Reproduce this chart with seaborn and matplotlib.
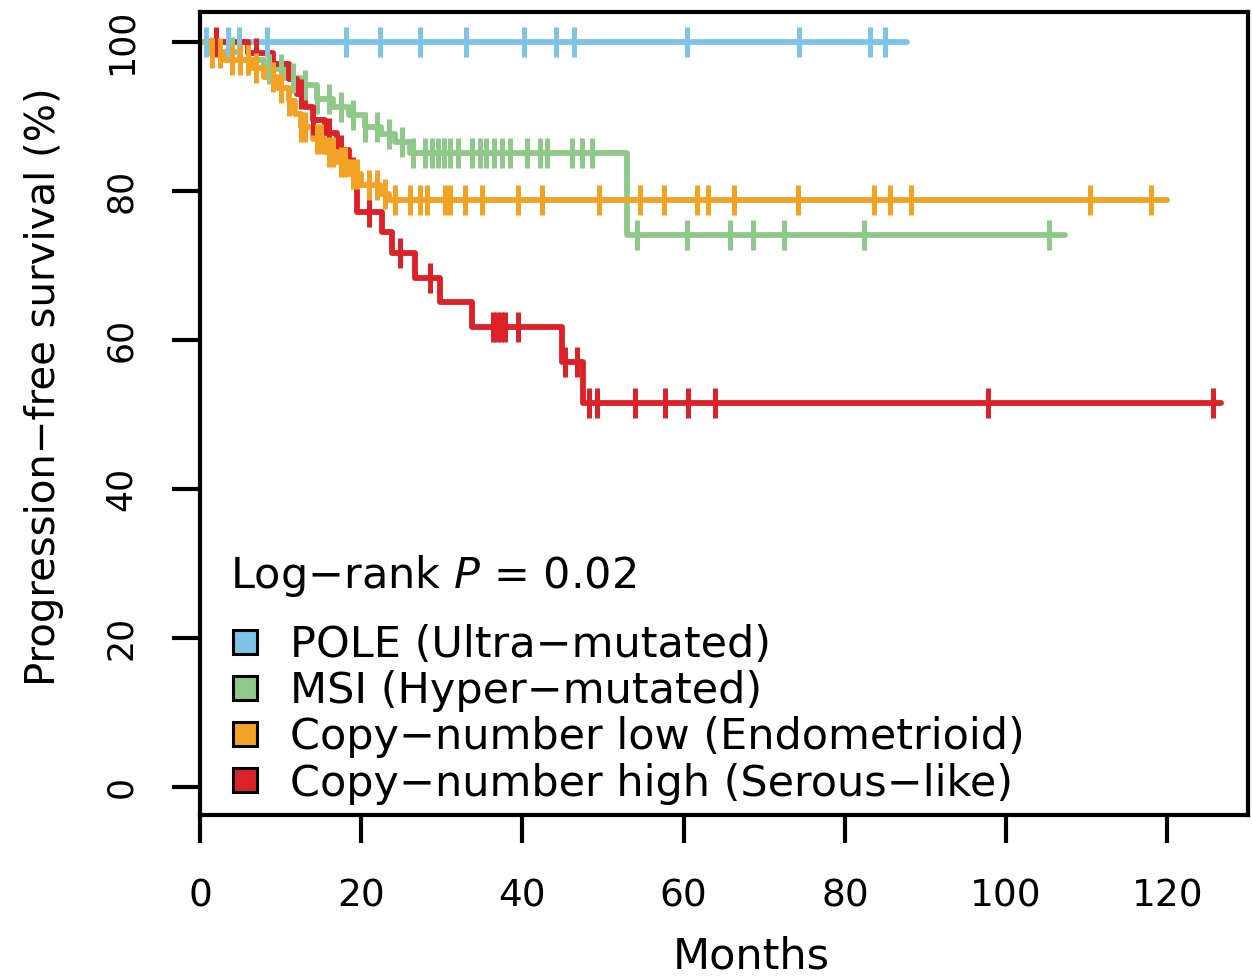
import numpy as np
import pandas as pd
import matplotlib
matplotlib.use("Agg")
import matplotlib.pyplot as plt
import seaborn as sns
from matplotlib.lines import Line2D

# ---------------- data ----------------
group_labels = ["POLE (Ultra−mutated)", "MSI (Hyper−mutated)",
                "Copy−number low (Endometrioid)", "Copy−number high (Serous−like)"]
group_colors = ["#7ec4e6", "#8fc98a", "#f2a325", "#dc2229"]
pvalue_text = "Log−rank $\\it{P}$ = 0.02"

pole_times = [0]
pole_surv = [100]
pole_end = 87.7
pole_censor = [0.8, 3.5, 4.8, 8.3, 18.1, 22.3, 27.3, 33.0, 40.2, 44.2, 46.4,
               60.4, 74.3, 83.1, 85.0]

msi_times = [0, 1.5, 5, 8, 10.5, 12.5, 14.5, 16.5, 18.5, 20.5, 22.5, 24.2, 26, 53.0]
msi_surv = [100, 98.6, 97.5, 96.3, 95.2, 94.2, 92.3, 91.2, 90.2, 88.5, 87.6, 86.6, 85.1, 74.1]
msi_end = 107.3
msi_censor = [1.5, 4, 6, 8.5, 10, 11.5, 13, 14.5, 16, 17.5, 19, 20.5, 22, 23.5, 25,
              26.4, 27.9, 28.8, 29.5, 30.3, 31.0, 32.0, 33.7, 34.7, 35.5, 36.5,
              37.5, 38.5, 40.6, 42.2, 43.1, 46.2, 47.4, 48.6,
              54.2, 60.4, 65.8, 68.6, 72.5, 82.4, 105.3]

cnl_times = [0, 1, 3, 6.5, 8, 9.5, 11, 11.8, 12.5, 14, 15.5, 17, 18.5, 20, 22.3, 23.5]
cnl_surv = [100, 98.5, 97.5, 96.5, 95.3, 93.8, 92, 90.3, 88.5, 87, 85.2, 83.8, 82.2,
            80.8, 79.6, 78.8]
cnl_end = 120.0
cnl_censor = [1.5, 2.5, 4, 5, 6, 7, 9, 10, 11, 12.5, 13, 14.5, 15, 16, 16.5, 17.5,
              18, 19, 19.5, 21, 22, 23, 24.2, 26.1, 27.3, 28.2, 30.4, 31.0, 32.9,
              35.0, 39.5, 42.4, 49.5, 54.6, 57.6, 61.7, 63.0, 66.3, 74.2, 83.6,
              85.6, 88.2, 110.4, 118.0]

cnh_times = [0, 6, 9, 11, 12, 13, 14, 15.5, 17, 18.5, 19.5, 22.6, 23.8, 26.7, 29.8,
             33.7, 44.9, 47.5]
cnh_surv = [100, 98.5, 97, 95, 93, 91.3, 89.5, 87.8, 85.5, 82.5, 77.2, 74.4, 71.7,
            68.3, 65.1, 61.7, 57.0, 51.5]
cnh_end = 126.6
cnh_censor = [2, 7, 12.5, 14, 16, 17.5, 19, 21, 24.8, 28.5, 36.4, 36.9, 37.3, 37.8,
              39.5, 45.3, 46.8, 48.3, 49.3, 54.0, 57.7, 60.5, 63.9, 97.8, 125.6]

x_ticks = [0, 20, 40, 60, 80, 100, 120]
y_ticks = [0, 20, 40, 60, 80, 100]

curves = [
    (pole_times, pole_surv, pole_end, pole_censor),
    (msi_times, msi_surv, msi_end, msi_censor),
    (cnl_times, cnl_surv, cnl_end, cnl_censor),
    (cnh_times, cnh_surv, cnh_end, cnh_censor),
]

# ---------------- plotting ----------------
sns.set_theme(style="white", rc={"text.color": "black", "axes.labelcolor": "black",
                                 "xtick.color": "black", "ytick.color": "black",
                                 "axes.edgecolor": "black"})
plt.rcParams["font.family"] = ["DejaVu Sans"]
plt.rcParams["axes.unicode_minus"] = True

fig = plt.figure(figsize=(12.52, 9.8), dpi=100)
ax = fig.add_axes([200 / 1252, 1 - 815 / 980, 1048 / 1252, 803 / 980])

draw_order = [0, 1, 3, 2]
for gi in draw_order:
    times, surv, end, censor = curves[gi]
    col = group_colors[gi]
    df = pd.DataFrame({"t": list(times) + [end], "s": list(surv) + [surv[-1]]})
    sns.lineplot(data=df, x="t", y="s", ax=ax, color=col, lw=4.2,
                 drawstyle="steps-post", estimator=None, sort=False, legend=False)
    t_arr = np.asarray(times, dtype=float)
    s_arr = np.asarray(surv, dtype=float)
    c_arr = np.asarray(censor, dtype=float)
    idx = np.searchsorted(t_arr, c_arr, side="right") - 1
    cdf = pd.DataFrame({"t": c_arr, "s": s_arr[idx]})
    sns.scatterplot(data=cdf, x="t", y="s", ax=ax, marker="|", s=470,
                    color=col, edgecolor=None, linewidth=3.6, legend=False, zorder=3)

ax.set_xlim(0, 130)
ax.set_ylim(-3.8, 104)
ax.set_xticks(x_ticks)
ax.set_yticks(y_ticks)
ax.set_xticklabels([str(v) for v in x_ticks])
ax.set_yticklabels([str(v) for v in y_ticks])

for sp in ax.spines.values():
    sp.set_visible(True)
    sp.set_color("black")
    sp.set_linewidth(3)

ax.tick_params(axis="both", direction="out", length=20, width=3, color="black",
               labelcolor="black", bottom=True, left=True)
ax.tick_params(axis="x", labelsize=27, pad=26)
ax.tick_params(axis="y", labelsize=25, pad=24.5, labelrotation=90)
for lab in ax.get_yticklabels():
    lab.set_va("center")

ax.set_xlabel("Months", fontsize=31)
ax.xaxis.set_label_coords(0.526, -0.150)
ax.xaxis.label.set_va("top")
ax.set_ylabel("Progression−free survival (%)", fontsize=29)
ax.yaxis.set_label_coords(-0.130, 0.533)

ax.text(0.0286, 0.2827, pvalue_text, transform=ax.transAxes, fontsize=31,
        ha="left", va="baseline", color="black")

handles = [Line2D([], [], marker="s", ls="none", markersize=17,
                  markerfacecolor=c, markeredgecolor="black", markeredgewidth=2.2)
           for c in group_colors]
leg = ax.legend(handles, group_labels, loc="lower left", bbox_to_anchor=(0.016, 0.005),
                frameon=False, fontsize=31, handlelength=1.0, handletextpad=0.55,
                labelspacing=0.10, borderaxespad=0.0, borderpad=0.15)
for t in leg.get_texts():
    t.set_color("black")

fig.savefig("out.png", dpi=100)
